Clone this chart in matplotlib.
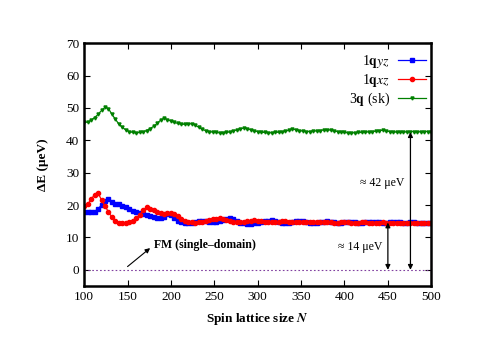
import numpy as np
import matplotlib.pyplot as plt

plt.rcParams['font.family'] = 'Liberation Serif'
plt.rcParams['mathtext.fontset'] = 'stix'

N = np.arange(100, 501, 4)

e_3q = [45.5, 45.6, 46.2, 47.0, 48.0, 49.2, 50.2, 49.8, 48.0, 46.5,
        45.0, 44.0, 43.2, 42.7, 42.4, 42.3, 42.4, 42.6, 43.0, 43.6,
        44.3, 45.2, 46.2, 46.8, 46.4, 45.9, 45.5, 45.2, 45.0, 44.9,
        45.0, 45.1, 44.7, 44.0, 43.4, 43.0, 42.7, 42.5, 42.4, 42.3,
        42.3, 42.4, 42.6, 42.9, 43.2, 43.5, 43.8, 43.6, 43.2, 42.9,
        42.7, 42.5, 42.4, 42.3, 42.3, 42.4, 42.5, 42.6, 42.8, 43.1,
        43.4, 43.3, 43.0, 42.8, 42.7, 42.7, 42.8, 42.9, 43.0, 43.2,
        43.3, 43.1, 42.9, 42.7, 42.5, 42.4, 42.3, 42.3, 42.3, 42.4,
        42.4, 42.5, 42.6, 42.7, 42.8, 43.0, 43.1, 42.9, 42.7, 42.6,
        42.5, 42.5, 42.5, 42.6, 42.7, 42.7, 42.6, 42.6, 42.7, 42.7,
        42.6]

e_xz = [19.8, 20.2, 21.8, 23.2, 23.8, 21.5, 19.8, 17.8, 16.3, 15.2,
        14.6, 14.5, 14.6, 14.8, 15.2, 15.9, 17.0, 18.4, 19.3, 18.9,
        18.4, 17.9, 17.5, 17.3, 17.4, 17.6, 17.2, 16.5, 15.8, 15.2,
        14.8, 14.7, 14.6, 14.7, 14.9, 15.1, 15.3, 15.6, 15.8, 16.0,
        15.7, 15.3, 15.0, 14.8, 14.7, 14.7, 14.8, 15.0, 15.2, 15.3,
        15.2, 15.0, 14.8, 14.7, 14.7, 14.8, 14.9, 15.0, 15.0, 14.9,
        14.8, 14.7, 14.7, 14.8, 14.9, 14.9, 14.8, 14.7, 14.7, 14.8,
        14.8, 14.7, 14.6, 14.6, 14.7, 14.7, 14.7, 14.6, 14.6, 14.6,
        14.7, 14.7, 14.6, 14.6, 14.6, 14.6, 14.7, 14.6, 14.6, 14.6,
        14.6, 14.5, 14.6, 14.6, 14.5, 14.5, 14.5, 14.5, 14.5, 14.5,
        14.5]

e_yz = [17.9, 17.8, 17.7, 18.0, 18.8, 20.0, 21.2, 21.8, 21.0, 20.4,
        20.2, 19.8, 19.4, 18.9, 18.3, 17.9, 17.6, 17.3, 17.0, 16.6,
        16.2, 16.0, 16.0, 16.4, 17.2, 16.9, 16.0, 15.2, 14.8, 14.6,
        14.5, 14.6, 14.8, 15.0, 15.2, 15.1, 14.9, 14.8, 14.9, 15.2,
        15.5, 15.8, 15.9, 15.6, 15.0, 14.6, 14.3, 14.2, 14.2, 14.3,
        14.5, 14.8, 15.0, 15.2, 15.3, 15.1, 14.8, 14.6, 14.5, 14.6,
        14.8, 15.0, 15.1, 15.0, 14.8, 14.6, 14.5, 14.5, 14.7, 14.9,
        15.0, 14.9, 14.7, 14.6, 14.6, 14.7, 14.8, 14.8, 14.7, 14.6,
        14.6, 14.7, 14.8, 14.8, 14.7, 14.7, 14.6, 14.6, 14.7, 14.8,
        14.7, 14.7, 14.6, 14.6, 14.7, 14.7, 14.6, 14.6, 14.6, 14.6,
        14.6]

fig = plt.figure(figsize=(4.98, 3.52), dpi=100)
ax = fig.add_axes([0.169, 0.1875, 0.697, 0.69])

ax.plot(N, e_yz, color='blue', marker='s', ms=3.0, lw=0.9, label=r'1$\mathbf{q}$$yz$')
ax.plot(N, e_xz, color='red', marker='o', ms=3.0, lw=0.9, label=r'1$\mathbf{q}$$xz$')
ax.plot(N, e_3q, color='green', marker='v', ms=2.2, lw=0.9, label=r'3$\mathbf{q}$ (sk)')
ax.plot([100, 500], [0, 0], color='#8040a0', ls=(0, (1.5, 2)), lw=0.8)

# energy gap arrows
ax.annotate('', xy=(450, 14.6), xytext=(450, 0),
            arrowprops=dict(arrowstyle='<|-|>', color='black', lw=0.9,
                            mutation_scale=7, shrinkA=0, shrinkB=0))
ax.annotate('', xy=(476, 42.5), xytext=(476, 0),
            arrowprops=dict(arrowstyle='<|-|>', color='black', lw=0.9,
                            mutation_scale=7, shrinkA=0, shrinkB=0))
ax.text(444, 7, '\u2248 14 \u03bceV', fontsize=8.5, ha='right', va='center')
ax.text(469, 26.7, '\u2248 42 \u03bceV', fontsize=8.5, ha='right', va='center')

ax.annotate('', xy=(176, 6.7), xytext=(150, 1),
            arrowprops=dict(arrowstyle='-|>', color='black', lw=0.8,
                            mutation_scale=7, shrinkA=0, shrinkB=0))
ax.text(181, 7.8, 'FM (single\u2013domain)', fontsize=8.5, fontweight='bold',
        ha='left', va='center')

ax.set_xlim(100, 500)
ax.set_ylim(-5, 70)
ax.set_xticks(np.arange(100, 501, 50))
ax.set_yticks(np.arange(0, 71, 10))
ax.tick_params(direction='in', top=True, right=True, labelsize=9.5, length=4, width=0.8)
for s in ax.spines.values():
    s.set_linewidth(1.8)

ax.set_xlabel(r'Spin lattice size $\mathbfit{N}$', fontsize=9.5, fontweight='bold', labelpad=6)
ax.set_ylabel('\u0394E (\u03bceV)', fontsize=9.5, fontweight='bold', labelpad=12)

ax.legend(loc='upper right', bbox_to_anchor=(1.02, 1.01), frameon=False,
          markerfirst=False, fontsize=10, handlelength=2.0, labelspacing=0.12,
          handletextpad=0.6)

plt.savefig('out.png', dpi=100)
